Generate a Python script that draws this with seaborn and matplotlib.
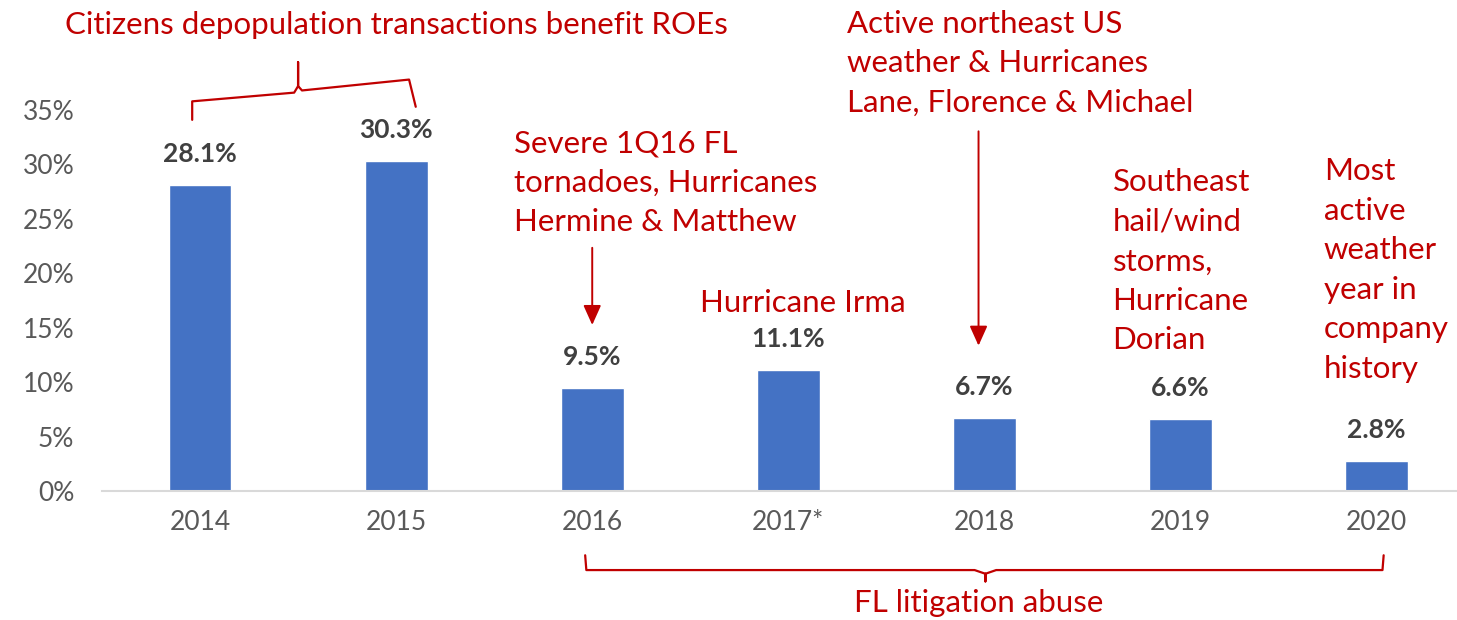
import matplotlib
matplotlib.use("Agg")
import matplotlib.pyplot as plt
import seaborn as sns
import pandas as pd

years = ["2014", "2015", "2016", "2017*", "2018", "2019", "2020"]
roe = [28.1, 30.3, 9.5, 11.1, 6.7, 6.6, 2.8]
yticks = [0, 5, 10, 15, 20, 25, 30, 35]

sns.set_theme(style="white")
plt.rcParams['font.family'] = ['Lato', 'DejaVu Sans']

RED = "#C00000"
BLUE = "#4472C4"

df = pd.DataFrame({"year": years, "roe": roe})

fig = plt.figure(figsize=(14.57, 6.2), dpi=100)
ax = fig.add_axes([0.070, 0.208, 0.93, 0.6145])

sns.barplot(data=df, x="year", y="roe", color=BLUE, width=0.32, ax=ax, saturation=1)

ax.set_ylim(0, 35)
ax.set_xlim(-0.5, 6.41)
ax.set_yticks(yticks)
ax.set_yticklabels([f"{t}%" for t in yticks])
ax.set_xlabel("")
ax.set_ylabel("")
for s in ["top", "right", "left"]:
    ax.spines[s].set_visible(False)
ax.spines["bottom"].set_color("#D9D9D9")
ax.spines["bottom"].set_linewidth(1.5)
ax.tick_params(axis="y", length=0, labelsize=19, labelcolor="#595959", pad=20)
ax.tick_params(axis="x", length=0, labelsize=19, labelcolor="#595959", pad=14)

for i, v in enumerate(roe):
    ax.text(i, v + 2.85, f"{v:.1f}%", ha="center", va="center", fontsize=19,
            fontweight="bold", color="#404040")

tk = dict(color=RED, fontsize=22.5, clip_on=False, linespacing=1.5)

ax.text(-0.689, 42.8, "Citizens depopulation transactions benefit ROEs", ha="left", va="center", **tk)
ax.text(1.602, 28.3, "Severe 1Q16 FL\ntornadoes, Hurricanes\nHermine & Matthew", ha="left", va="center", **tk)
ax.text(2.551, 17.3, "Hurricane Irma", ha="left", va="center", **tk)
ax.text(3.301, 39.3, "Active northeast US\nweather & Hurricanes\nLane, Florence & Michael", ha="left", va="center", **tk)
ax.text(4.653, 21.1, "Southeast\nhail/wind\nstorms,\nHurricane\nDorian", ha="left", va="center", **tk)
ax.text(5.730, 20.3, "Most\nactive\nweather\nyear in\ncompany\nhistory", ha="left", va="center", **tk)
ax.text(3.97, -10.3, "FL litigation abuse", ha="center", va="center", **tk)

# top brace
ax.plot([-0.04, -0.04, 0.48, 0.5, 0.5, 0.5, 0.52, 1.066, 1.10],
        [34.1, 35.8, 36.6, 37.2, 39.4, 37.2, 36.8, 37.8, 35.3],
        color=RED, lw=1.6, clip_on=False, solid_joinstyle="round")
# bottom brace
ax.plot([1.964, 1.97, 3.95, 4.005, 4.005, 4.005, 4.06, 6.03, 6.036],
        [-5.9, -7.26, -7.26, -7.6, -8.3, -7.6, -7.26, -7.26, -5.9],
        color=RED, lw=1.6, clip_on=False)

arrow = dict(arrowstyle="-|>,head_width=0.45,head_length=1.0", color=RED, lw=1.4)
ax.annotate("", xy=(2.0, 15.0), xytext=(2.0, 22.6), arrowprops=arrow, annotation_clip=False)
ax.annotate("", xy=(3.97, 13.1), xytext=(3.97, 33.3), arrowprops=arrow, annotation_clip=False)

fig.savefig("out.png", dpi=100)
